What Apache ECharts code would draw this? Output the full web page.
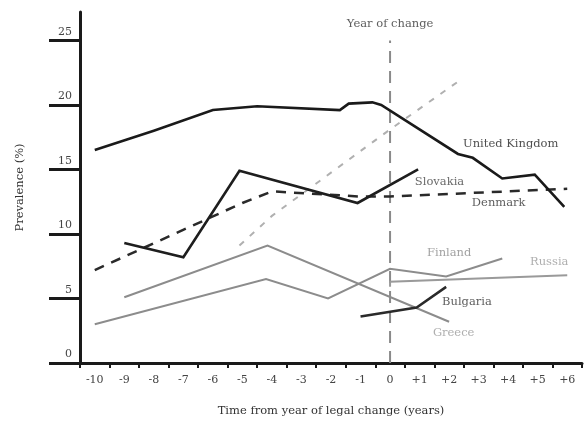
<!DOCTYPE html>
<html>
<head>
<meta charset="utf-8">
<script src="https://cdn.jsdelivr.net/npm/echarts@6/dist/echarts.min.js"></script>
<style>
  html, body { margin: 0; padding: 0; background: #fff; }
  #chart { width: 586px; height: 430px; }
</style>
</head>
<body>
<div id="chart"></div>
<script>
// tick labels
const years = ['-10', '-9', '-8', '-7', '-6', '-5', '-4', '-3', '-2', '-1', '0', '+1', '+2', '+3', '+4', '+5', '+6']
const yTicks = [0, 5, 10, 15, 20, 25]

// series, [years from change, prevalence %]
const unitedKingdom = [[-10, 16.5], [-8, 18.0], [-6, 19.6], [-4.5, 19.9], [-1.7, 19.6], [-1.4, 20.1], [-0.6, 20.2], [-0.3, 20.0], [2.3, 16.2], [2.8, 15.9], [3.8, 14.3], [4.9, 14.6], [5.9, 12.1]]
const slovakia = [[-9, 9.3], [-7, 8.2], [-5.1, 14.9], [-1.1, 12.4], [0.95, 15.0]]
const denmark = [[-10, 7.2], [-5, 12.4], [-4, 13.3], [-1, 12.9], [0, 12.9], [6, 13.5]]
const greyDashed = [[-5.1, 9.1], [-4, 11.4], [0, 18.1], [2.3, 21.8]]
const finland = [[-10, 3.0], [-4.2, 6.5], [-2.1, 5.0], [0, 7.3], [1.9, 6.7], [3.8, 8.1]]
const greece = [[-9, 5.1], [-4.15, 9.1], [2, 3.2]]
const russia = [[0, 5.9], [0, 6.3], [6, 6.8]]
const bulgaria = [[-1, 3.6], [0.9, 4.3], [1.9, 5.9]]
const yearOfChange = [[0, 0], [0, 25]]

// text labels
const labelNames = ['United Kingdom', 'Slovakia', 'Denmark', 'Finland', 'Russia', 'Bulgaria', 'Greece', 'Year of change']
const labelX = [2.47, 0.84, 2.77, 1.25, 4.74, 1.76, 1.45, 0]
const labelY = [17.0, 14.0, 12.4, 8.5, 7.8, 4.7, 2.3, 26.3]

const FONT = 'DejaVu Serif'
const labelColors = ['#222', '#444', '#333', '#8a8a8a', '#9a9a9a', '#333', '#9a9a9a', '#333']

function line(name, data, color, width, dash) {
  return {
    name,
    type: 'line',
    xAxisIndex: 1,
    data,
    symbol: 'none',
    silent: true,
    lineStyle: { color, width, type: dash || 'solid', cap: 'butt', join: 'miter' },
    z: 3,
  }
}

const chart = echarts.init(document.getElementById('chart'))
chart.setOption({
  backgroundColor: '#fff',
  animation: false,
  textStyle: { fontFamily: FONT },
  grid: { left: 80, right: 4, top: 12, bottom: 67, containLabel: false },
  xAxis: [
    {
      type: 'category',
      data: years,
      boundaryGap: true,
      name: 'Time from year of legal change (years)',
      nameLocation: 'middle',
      nameGap: 42,
      nameTextStyle: { fontFamily: FONT, fontSize: 11.5, color: '#333' },
      axisLine: { onZero: false, lineStyle: { color: '#1a1a1a', width: 3 } },
      axisTick: { show: true, interval: 0, length: 5, lineStyle: { color: '#1a1a1a', width: 2 } },
      axisLabel: { interval: 0, margin: 12, fontSize: 11, color: '#444', fontFamily: FONT },
      splitLine: { show: false },
    },
    {
      type: 'value',
      min: -10.5,
      max: 6.5,
      show: false,
      splitLine: { show: false },
    },
  ],
  yAxis: {
    type: 'value',
    min: 0,
    max: 27.2,
    interval: 5,
    name: 'Prevalence (%)',
    nameLocation: 'middle',
    nameGap: 54,
    nameTextStyle: { fontFamily: FONT, fontSize: 11.5, color: '#333' },
    axisLine: { show: true, onZero: false, lineStyle: { color: '#1a1a1a', width: 3 } },
    axisTick: { show: true, length: 31, customValues: yTicks, lineStyle: { color: '#1a1a1a', width: 3 } },
    axisLabel: {
      customValues: yTicks,
      margin: 8,
      verticalAlign: 'bottom',
      padding: [0, 0, 3, 0],
      fontSize: 11,
      color: '#444',
      fontFamily: FONT,
    },
    splitLine: { show: false },
  },
  series: [
    line('Year of change', yearOfChange, '#8a8a8a', 2, [12, 8]),
    line('Grey dashed', greyDashed, '#b0b0b0', 2, [6, 8]),
    line('Finland', finland, '#8c8c8c', 2),
    line('Greece', greece, '#8c8c8c', 2),
    line('Russia', russia, '#9a9a9a', 2),
    line('Bulgaria', bulgaria, '#2a2a2a', 2.5),
    line('Denmark', denmark, '#2a2a2a', 2.5, [10, 8]),
    line('Slovakia', slovakia, '#1e1e1e', 2.6),
    line('United Kingdom', unitedKingdom, '#1a1a1a', 2.6),
    {
      type: 'scatter',
      xAxisIndex: 1,
      symbolSize: 0,
      silent: true,
      data: labelNames.map((n, i) => ({
        value: [labelX[i], labelY[i]],
        name: n,
        label: {
          show: true,
          formatter: n,
          position: 'inside',
          align: n === 'Year of change' ? 'center' : 'left',
          verticalAlign: 'middle',
          color: labelColors[i],
          fontSize: 11.5,
          fontFamily: FONT,
        },
      })),
      z: 5,
    },
  ],
})
</script>
</body>
</html>
